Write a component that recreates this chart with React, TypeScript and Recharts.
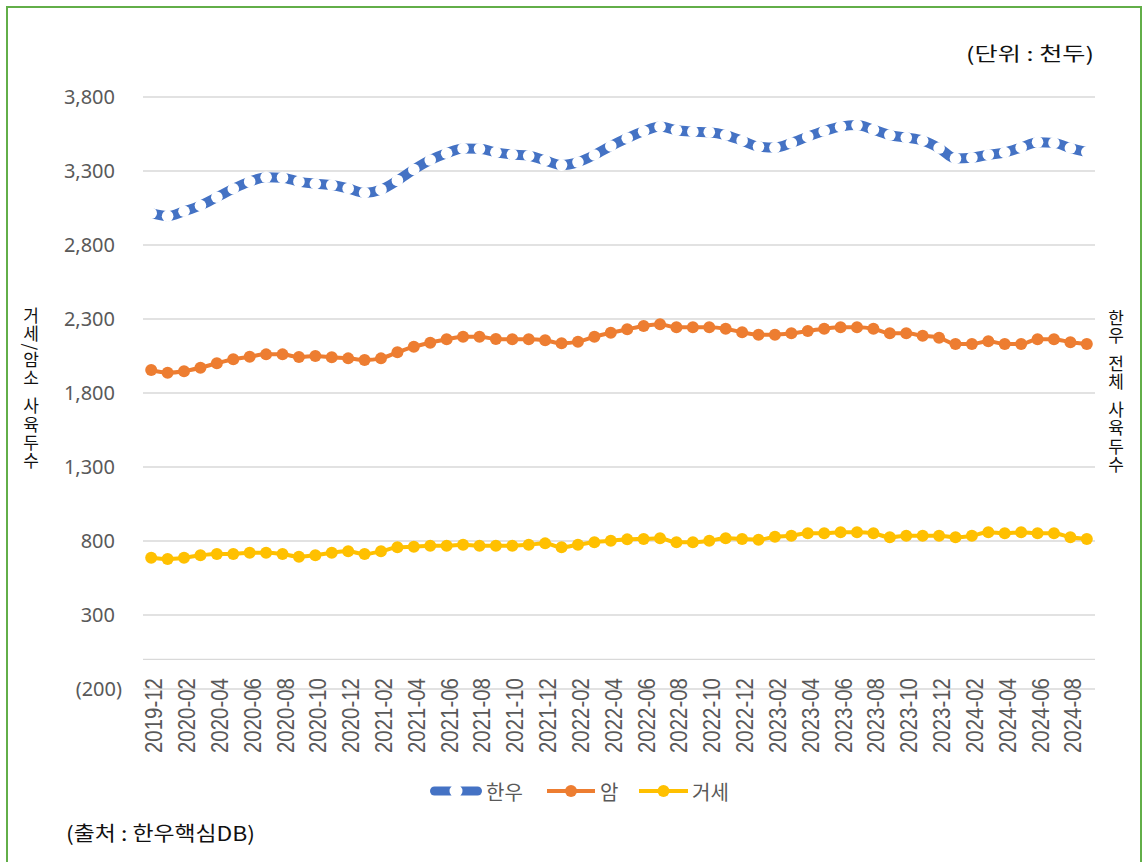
import React from 'react';
import { LineChart, Line, XAxis, YAxis, CartesianGrid, ReferenceLine } from 'recharts';

const months = [
  '2019-12',
  '2020-01', '2020-02', '2020-03', '2020-04', '2020-05', '2020-06', '2020-07', '2020-08', '2020-09', '2020-10', '2020-11', '2020-12',
  '2021-01', '2021-02', '2021-03', '2021-04', '2021-05', '2021-06', '2021-07', '2021-08', '2021-09', '2021-10', '2021-11', '2021-12',
  '2022-01', '2022-02', '2022-03', '2022-04', '2022-05', '2022-06', '2022-07', '2022-08', '2022-09', '2022-10', '2022-11', '2022-12',
  '2023-01', '2023-02', '2023-03', '2023-04', '2023-05', '2023-06', '2023-07', '2023-08', '2023-09', '2023-10', '2023-11', '2023-12',
  '2024-01', '2024-02', '2024-03', '2024-04', '2024-05', '2024-06', '2024-07', '2024-08', '2024-09',
];

// 한우 전체 사육두수 (천두)
const hanwoo = [
  3015, 2995, 3028, 3067, 3123, 3180, 3228, 3258, 3255, 3228,
  3214, 3205, 3182, 3152, 3174, 3236, 3310, 3374, 3420, 3452,
  3450, 3426, 3411, 3403, 3372, 3340, 3360, 3408, 3469, 3522,
  3568, 3600, 3575, 3566, 3562, 3543, 3505, 3465, 3458, 3489,
  3532, 3570, 3600, 3610, 3580, 3543, 3526, 3506, 3455, 3385,
  3390, 3410, 3425, 3459, 3495, 3490, 3455, 3428,
];

// 암 (천두)
const cows = [
  1955, 1937, 1947, 1971, 2001, 2028, 2045, 2061, 2061, 2043,
  2050, 2041, 2034, 2023, 2034, 2075, 2113, 2140, 2163, 2180,
  2180, 2165, 2163, 2163, 2156, 2136, 2147, 2180, 2207, 2230,
  2253, 2264, 2244, 2244, 2244, 2234, 2210, 2194, 2194, 2203,
  2219, 2234, 2244, 2244, 2234, 2203, 2203, 2187, 2174, 2131,
  2131, 2149, 2131, 2131, 2163, 2163, 2143, 2131,
];

// 거세 (천두)
const steers = [
  687, 678, 687, 703, 712, 712, 721, 721, 712, 694,
  703, 721, 730, 712, 730, 757, 761, 768, 768, 775,
  768, 768, 768, 775, 784, 757, 775, 791, 802, 811,
  814, 818, 791, 791, 802, 818, 814, 809, 829, 836,
  852, 852, 859, 859, 852, 825, 836, 836, 836, 825,
  836, 859, 852, 859, 852, 852, 825, 814,
];

const yTicks = [-200, 300, 800, 1300, 1800, 2300, 2800, 3300, 3800];

const seriesNames = { hanwoo: '한우', cows: '암', steers: '거세' };
const leftTitle = '거세/암소\u2002사육두수';
const rightTitle = '한우\u2002전체\u2002사육두수';
const unitText = '(단위 : 천두)';
const sourceText = '(출처 : 한우핵심DB)';

const BLUE = '#4472C4';
const ORANGE = '#ED7D31';
const YELLOW = '#FFC000';
const GRID = '#D9D9D9';
const KFONT = "'Noto Sans CJK KR', 'Noto Sans', sans-serif";

const data = months.map((m, i) => ({
  month: m,
  hanwoo: hanwoo[i],
  cows: cows[i],
  steers: steers[i],
}));

const fmtY = (v: number) =>
  v < 0 ? `(${Math.abs(v).toLocaleString('en-US')})` : v.toLocaleString('en-US');

const YTick = (props: any) => {
  const { y, payload } = props;
  const v = payload.value as number;
  return (
    <text
      x={v < 0 ? 122 : 115}
      y={y}
      dy="0.36em"
      textAnchor="end"
      fill="#595959"
      fontSize={20}
      fontFamily="'Noto Sans', sans-serif"
    >
      {fmtY(v)}
    </text>
  );
};

const XTick = (props: any) => {
  const { x, payload } = props;
  const tx = x + 11;
  const ty = 678;
  return (
    <text
      x={tx}
      y={ty}
      transform={`rotate(-90, ${tx}, ${ty})`}
      textAnchor="end"
      fill="#595959"
      fontSize={23}
      fontFamily="'Liberation Sans', Arial, sans-serif"
      textLength={75}
      lengthAdjust="spacingAndGlyphs"
    >
      {payload.value}
    </text>
  );
};

export default function App() {
  return (
    <div
      style={{
        position: 'fixed',
        left: 0,
        top: 0,
        width: 1143,
        height: 862,
        overflow: 'hidden',
        background: '#fff',
      }}
    >
      <div
        style={{
          position: 'absolute',
          left: 6,
          top: 6,
          width: 1136,
          height: 900,
          border: '2px solid #62AE48',
          boxSizing: 'border-box',
        }}
      />
      <div style={{ position: 'absolute', left: 0, top: 0 }}>
        <LineChart
          width={1143}
          height={862}
          data={data}
          margin={{ top: 97, right: 48, bottom: 0, left: 0 }}
        >
          <CartesianGrid vertical={false} stroke={GRID} strokeWidth={1.4} />
          <XAxis
            dataKey="month"
            height={173}
            axisLine={false}
            tickLine={false}
            interval={1}
            padding={{ left: 8.2, right: 8.2 }}
            tick={XTick}
          />
          <YAxis
            width={143}
            domain={[-200, 3800]}
            ticks={yTicks}
            axisLine={false}
            tickLine={false}
            tick={YTick}
            interval={0}
          />
          <ReferenceLine y={0} stroke={GRID} strokeWidth={1.4} />
          <Line
            type="monotone"
            dataKey="hanwoo"
            name={seriesNames.hanwoo}
            stroke={BLUE}
            strokeWidth={10}
            dot={{ r: 5.8, fill: '#fff', stroke: 'none', strokeWidth: 0 }}
            activeDot={false}
            isAnimationActive={false}
          />
          <Line
            type="monotone"
            dataKey="cows"
            name={seriesNames.cows}
            stroke={ORANGE}
            strokeWidth={4}
            dot={{ r: 6, fill: ORANGE, stroke: ORANGE, strokeWidth: 0 }}
            activeDot={false}
            isAnimationActive={false}
          />
          <Line
            type="monotone"
            dataKey="steers"
            name={seriesNames.steers}
            stroke={YELLOW}
            strokeWidth={4}
            dot={{ r: 6, fill: YELLOW, stroke: YELLOW, strokeWidth: 0 }}
            activeDot={false}
            isAnimationActive={false}
          />
        </LineChart>
      </div>
      <svg
        width={1143}
        height={862}
        style={{ position: 'absolute', left: 0, top: 0, pointerEvents: 'none' }}
      >
        <text
          x={966}
          y={52}
          dominantBaseline="central"
          fontSize={19}
          fontFamily={KFONT}
          fill="#111"
          textLength={128}
          lengthAdjust="spacingAndGlyphs"
        >
          {unitText}
        </text>
        <text
          x={31}
          y={307}
          fontSize={17}
          fontFamily={KFONT}
          fill="#111"
          letterSpacing={1.2}
          style={{ writingMode: 'vertical-rl' as any }}
        >
          {leftTitle}
        </text>
        <text
          x={1116}
          y={309}
          fontSize={17}
          fontFamily={KFONT}
          fill="#111"
          letterSpacing={1.2}
          style={{ writingMode: 'vertical-rl' as any }}
        >
          {rightTitle}
        </text>

        {/* legend */}
        <line x1={434.5} y1={791} x2={477.5} y2={791} stroke={BLUE} strokeWidth={9} strokeLinecap="round" />
        <circle cx={456} cy={791} r={6.5} fill="#fff" />
        <text x={486} y={791} dominantBaseline="central" fontSize={20} fontFamily={KFONT} fill="#595959">
          {seriesNames.hanwoo}
        </text>
        <line x1={547} y1={791} x2={595} y2={791} stroke={ORANGE} strokeWidth={4} />
        <circle cx={571} cy={791} r={6} fill={ORANGE} />
        <text x={600} y={791} dominantBaseline="central" fontSize={20} fontFamily={KFONT} fill="#595959">
          {seriesNames.cows}
        </text>
        <line x1={639} y1={791} x2={688} y2={791} stroke={YELLOW} strokeWidth={4} />
        <circle cx={663.5} cy={791} r={6} fill={YELLOW} />
        <text x={692} y={791} dominantBaseline="central" fontSize={20} fontFamily={KFONT} fill="#595959">
          {seriesNames.steers}
        </text>

        <text
          x={66}
          y={832}
          dominantBaseline="central"
          fontSize={20}
          fontFamily={KFONT}
          fill="#111"
          textLength={189}
          lengthAdjust="spacingAndGlyphs"
        >
          {sourceText}
        </text>
      </svg>
    </div>
  );
}
